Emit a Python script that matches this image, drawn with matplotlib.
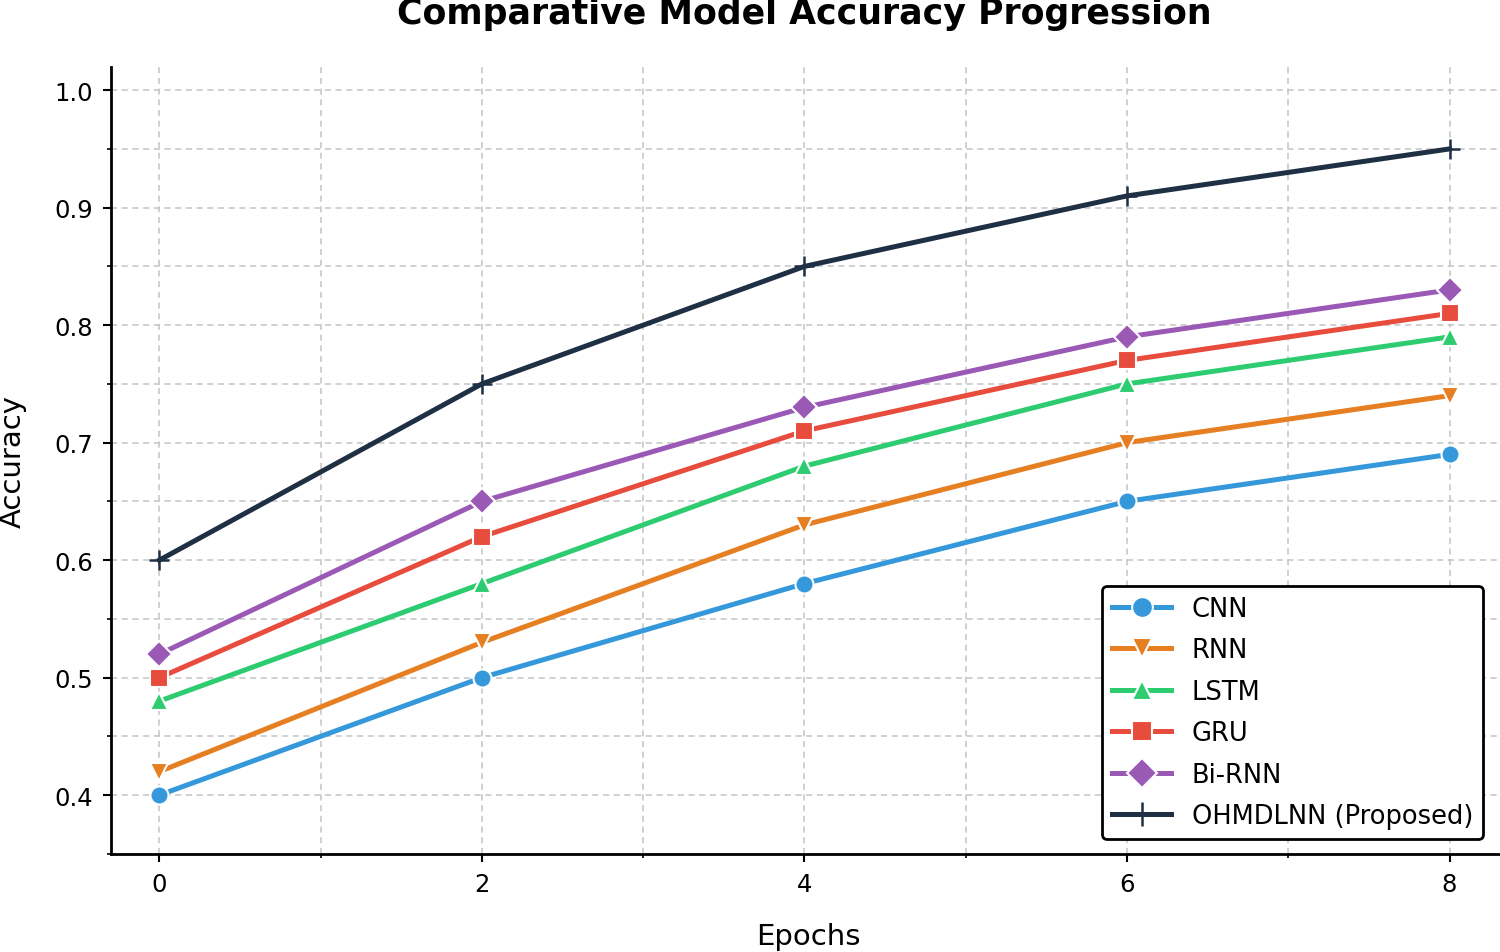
import numpy as np
import matplotlib
matplotlib.use('Agg')
import matplotlib.pyplot as plt
from matplotlib.ticker import MultipleLocator

# 数据
epochs = [0, 2, 4, 6, 8]
cnn = [0.40, 0.50, 0.58, 0.65, 0.69]
rnn = [0.42, 0.53, 0.63, 0.70, 0.74]
lstm = [0.48, 0.58, 0.68, 0.75, 0.79]
gru = [0.50, 0.62, 0.71, 0.77, 0.81]
birnn = [0.52, 0.65, 0.73, 0.79, 0.83]
proposed = [0.60, 0.75, 0.85, 0.91, 0.95]

names = ['CNN', 'RNN', 'LSTM', 'GRU', 'Bi-RNN', 'OHMDLNN (Proposed)']
series = [cnn, rnn, lstm, gru, birnn, proposed]
colors = ['#3498db', '#e67e22', '#2ecc71', '#e74c3c', '#9b59b6', '#1f3044']
markers = ['o', 'v', '^', 's', 'D', '+']

fig = plt.figure(figsize=(15, 9.53), dpi=100)
ax = fig.add_axes([0.074, 0.103, 0.93, 0.826])

for name, vals, c, m in zip(names, series, colors, markers):
    if m == '+':
        ax.plot(epochs, vals, color=c, marker=m, linewidth=3.6, markersize=15,
                markeredgecolor=c, markeredgewidth=1.8, label=name, zorder=3)
    else:
        ax.plot(epochs, vals, color=c, marker=m, linewidth=3.6, markersize=13,
                markeredgecolor='white', markeredgewidth=1.5, label=name, zorder=3)

ax.set_xlim(-0.3, 8.35)
ax.set_ylim(0.35, 1.02)
ax.xaxis.set_major_locator(MultipleLocator(2))
ax.xaxis.set_minor_locator(MultipleLocator(1))
ax.yaxis.set_major_locator(MultipleLocator(0.1))
ax.yaxis.set_minor_locator(MultipleLocator(0.05))
ax.grid(True, which='both', linestyle=(0, (4, 3)), color='#c4c4c4', linewidth=1.1)
ax.tick_params(axis='both', which='major', labelsize=17.5, length=6, width=1.5, pad=7)
ax.tick_params(axis='both', which='minor', length=3, width=1.2)

for s in ['top', 'right']:
    ax.spines[s].set_visible(False)
for s in ['left', 'bottom']:
    ax.spines[s].set_linewidth(2)

ax.set_xlabel('Epochs', fontsize=21, labelpad=19)
ax.set_ylabel('Accuracy', fontsize=21, labelpad=20)
fig.text(0.536, 0.985, 'Comparative Model Accuracy Progression', fontsize=25,
         fontweight='bold', ha='center', va='center')

leg = ax.legend(loc='lower right', fontsize=18.5, frameon=True, edgecolor='black',
                framealpha=1, borderpad=0.4, handlelength=2.3, labelspacing=0.6,
                markerscale=1.15, handletextpad=0.8, bbox_to_anchor=(0.993, 0.002))
leg.get_frame().set_linewidth(2)

plt.savefig('out.png', dpi=100)
